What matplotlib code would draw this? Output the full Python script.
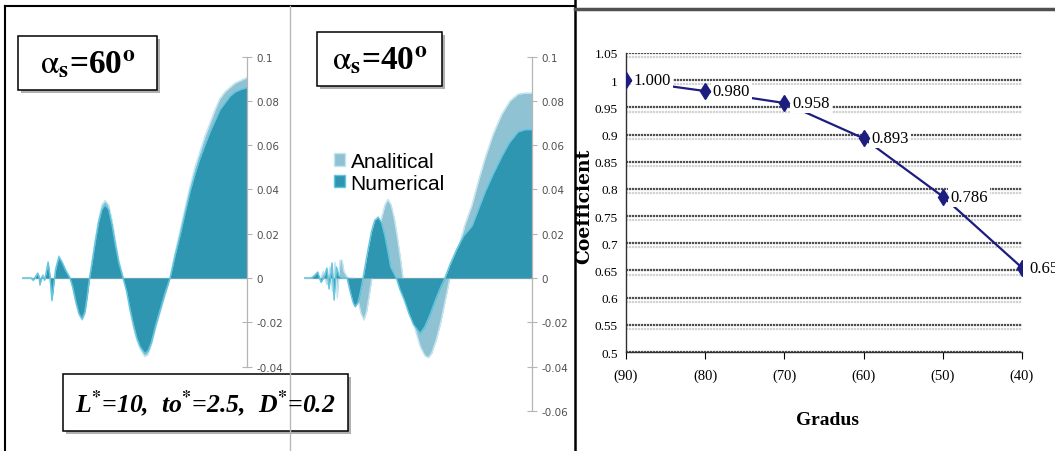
import numpy as np
import matplotlib
matplotlib.use('Agg')
import matplotlib.pyplot as plt
from matplotlib.patches import Rectangle, Patch
import matplotlib.patheffects as pe

plt.rcParams['mathtext.fontset'] = 'stix'

W, H = 1055, 452

# ---- alpha_s = 60 deg : position along span (0..100) and value
x60 = [0, 4, 5, 6, 7, 7.6, 8, 8.6, 9.3, 10, 10.7, 11.6, 12.4, 13.3, 14.2, 15, 16.4, 17.8, 19.6, 21.3,
       22.5, 24, 25.3, 26.7, 28, 29, 30,
       31, 32.5, 34, 35.5, 36.9, 38.5, 40, 41.5, 43, 44.9,
       46.5, 48, 49.5, 51, 52.5, 54.5, 56, 57.5, 59.5, 61.5, 63.5, 65.8,
       68, 70.2, 72.4, 74.7, 76.9, 79.1, 81.3, 83.6, 85.8, 88, 90.2, 92.4, 94.7, 96.9, 100]
num60 = [0, 0, -0.001, 0.0005, 0.002, 0.0005, -0.003, 0, 0.001, -0.001, 0.002, 0.007, 0.001, -0.010, -0.002, 0.004, 0.0095, 0.007, 0.003, 0,
         -0.004, -0.011, -0.016, -0.0185, -0.015, -0.008, 0,
         0.006, 0.016, 0.025, 0.031, 0.033, 0.031, 0.024, 0.015, 0.007, 0,
         -0.006, -0.014, -0.021, -0.027, -0.031, -0.034, -0.033, -0.029, -0.021, -0.014, -0.007, 0,
         0.010, 0.019, 0.029, 0.039, 0.047, 0.054, 0.060, 0.066, 0.071, 0.076, 0.079, 0.082, 0.084, 0.085, 0.086]
an60 = [0, 0, -0.0012, 0.0008, 0.0025, 0.0008, -0.0035, 0, 0.0015, -0.001, 0.0025, 0.0075, 0.0015, -0.0105, -0.0025, 0.0045, 0.010, 0.0075, 0.0035, 0.0005,
        -0.004, -0.0115, -0.0165, -0.019, -0.016, -0.009, -0.0005,
        0.006, 0.017, 0.026, 0.033, 0.035, 0.033, 0.026, 0.017, 0.008, 0.0005,
        -0.006, -0.015, -0.022, -0.028, -0.032, -0.0354, -0.0345, -0.030, -0.022, -0.015, -0.008, 0,
        0.011, 0.021, 0.031, 0.0415, 0.050, 0.057, 0.064, 0.070, 0.076, 0.081, 0.084, 0.086, 0.088, 0.089, 0.0905]

# ---- alpha_s = 40 deg
x40n = [0, 3, 4.5, 6, 7.5, 9, 10, 11, 12.3, 13.2, 14.2, 15.3, 16.5, 18.9,
        20.2, 21.5, 22.4, 23.7, 24.6, 25.9,
        26.9, 28.1, 29.6, 31, 32.5, 34, 35.5, 37, 38, 40.5,
        42, 44, 46, 48, 50.9, 53, 55.5, 58, 60, 61.8,
        64, 67, 70, 73.7, 76.5, 79.4, 83, 86.8, 90, 93.9, 97, 100]
num40 = [0, 0, 0.001, 0.0027, -0.002, 0.001, 0.0045, -0.005, 0.0068, -0.010, 0.005, 0.001, 0, 0,
         -0.006, -0.011, -0.013, -0.011, -0.007, 0,
         0.006, 0.013, 0.021, 0.026, 0.0275, 0.025, 0.019, 0.011, 0.005, 0,
         -0.005, -0.010, -0.016, -0.021, -0.025, -0.022, -0.016, -0.009, -0.004, 0,
         0.006, 0.013, 0.019, 0.0235, 0.031, 0.0388, 0.047, 0.055, 0.061, 0.066, 0.067, 0.067]
x40a = [0, 4, 5.5, 7, 8.5, 10, 11.4, 12.5, 13.6, 14.6, 15.8, 16.7, 17.5, 18.9, 20.2, 21.5,
        22.4, 23.7, 25, 26.3, 27.5, 28.6, 29.8,
        31, 32.5, 34, 35.5, 36.8, 38.2, 39.6, 41, 42.3, 43.4,
        45, 47, 49, 51, 53, 54.5, 56, 58, 60, 62, 64,
        66, 68.4, 70.6, 73.7, 76.3, 79.4, 83, 86.8, 90.4, 93.9, 97, 100]
an40 = [0, 0, 0.0015, -0.001, 0.003, -0.003, 0.005, -0.006, 0.007, -0.009, 0.008, 0.008, 0.003, 0.0005, 0, 0,
        -0.004, -0.010, -0.016, -0.019, -0.015, -0.008, 0,
        0.008, 0.018, 0.027, 0.033, 0.0355, 0.033, 0.027, 0.018, 0.009, 0,
        -0.007, -0.016, -0.024, -0.031, -0.035, -0.036, -0.034, -0.028, -0.020, -0.010, 0,
        0.008, 0.016, 0.024, 0.033, 0.043, 0.054, 0.065, 0.074, 0.080, 0.083, 0.0835, 0.0835]

yticks_small = [-0.06, -0.04, -0.02, 0, 0.02, 0.04, 0.06, 0.08, 0.1]
ytick_labels_small = ['-0.06', '-0.04', '-0.02', '0', '0.02', '0.04', '0.06', '0.08', '0.1']

# ---- coefficient chart
gradus = ['(90)', '(80)', '(70)', '(60)', '(50)', '(40)']
coef = [1.000, 0.980, 0.958, 0.893, 0.786, 0.655]
coef_ticks = [0.5, 0.55, 0.6, 0.65, 0.7, 0.75, 0.8, 0.85, 0.9, 0.95, 1.0, 1.05]
coef_tick_labels = ['0.5', '0.55', '0.6', '0.65', '0.7', '0.75', '0.8', '0.85', '0.9', '0.95', '1', '1.05']

C_AN = '#8fc3d3'
C_AN_EDGE = '#c4e4ee'
C_NU = '#2f96b1'
C_NU_EDGE = '#62c6de'

fig = plt.figure(figsize=(W / 100, H / 100), dpi=100)


def px_axes(x0, y0, x1, y1, **kw):
    return fig.add_axes([x0 / W, 1 - y1 / H, (x1 - x0) / W, (y1 - y0) / H], **kw)


def area_panel(ax, xa, ya, xn, yn, lo_bound):
    ax.fill_between(xa, ya, 0, color=C_AN, lw=0, zorder=1)
    ax.plot(xa, ya, color=C_AN_EDGE, lw=1, zorder=1.5)
    ax.fill_between(xn, yn, 0, color=C_NU, lw=0, zorder=2)
    ax.plot(xn, yn, color=C_NU_EDGE, lw=1, zorder=2.5)
    ax.hlines(0, 0, 100, color='#a6a6a6', lw=0.9, zorder=0.5)
    ax.set_xlim(0, 100)
    ax.set_ylim(-0.0682, 0.1034)
    for s in ['left', 'top', 'bottom']:
        ax.spines[s].set_visible(False)
    ax.spines['right'].set_color('#b5b5b5')
    ax.spines['right'].set_linewidth(0.9)
    ax.spines['right'].set_bounds(lo_bound, 0.1)
    ax.set_xticks([])
    ticks = [t for t in yticks_small if t >= lo_bound - 1e-9]
    labs = [l for t, l in zip(yticks_small, ytick_labels_small) if t >= lo_bound - 1e-9]
    ax.yaxis.tick_right()
    ax.set_yticks(ticks)
    ax.set_yticklabels(labs)
    ax.tick_params(axis='y', direction='inout', length=7, width=0.8, color='#b5b5b5',
                   labelsize=7.5, labelcolor='#505050', pad=3)
    ax.patch.set_alpha(0)


ax1 = px_axes(22, 50, 247, 430)
area_panel(ax1, x60, an60, x60, num60, -0.04)

ax2 = px_axes(304, 50, 532, 430)
area_panel(ax2, x40a, an40, x40n, num40, -0.06)
handles = [Patch(facecolor=C_AN, edgecolor=C_AN_EDGE), Patch(facecolor=C_NU, edgecolor=C_NU_EDGE)]
ax2.legend(handles, ['Analitical', 'Numerical'], loc='upper left',
           bbox_to_anchor=(334 / W, 1 - 153 / H), bbox_transform=fig.transFigure,
           frameon=False, handlelength=0.55, handleheight=0.55,
           handletextpad=0.25, labelspacing=0.12, borderpad=0, borderaxespad=0,
           prop={'family': 'Liberation Sans', 'size': 15})

# ---- right chart
ax3 = px_axes(626, 54, 1022, 353)
xs = np.arange(len(coef))
ax3.plot(xs, coef, color='#1d1d80', lw=1.6, zorder=3)
ax3.plot(xs, coef, ls='none', marker='d', ms=8, color='#1d1d80', zorder=6)
for i, v in enumerate(coef):
    ax3.annotate(f'{v:.3f}', (i, v), xytext=(5.5, 0), textcoords='offset points',
                 ha='left', va='center', fontsize=12, family='Liberation Serif',
                 bbox=dict(boxstyle='square,pad=0.12', fc='white', ec='none'),
                 zorder=5, annotation_clip=False)
ax3.set_xlim(0, 5)
ax3.set_ylim(0.5, 1.05)
ax3.set_yticks(coef_ticks)
ax3.set_yticklabels(coef_tick_labels)
ax3.set_xticks(xs)
ax3.set_xticklabels(gradus)
ax3.grid(axis='y', color='#505050', lw=1.6, ls=(0, (1, 0.35)), zorder=1)
for gl in ax3.get_ygridlines():
    gl.set_path_effects([pe.SimpleLineShadow(offset=(0, -3), shadow_color='#a8a8a8', alpha=0.5),
                         pe.Normal()])
for s in ['top', 'right']:
    ax3.spines[s].set_visible(False)
for s in ['left', 'bottom']:
    ax3.spines[s].set_color('#303030')
    ax3.spines[s].set_linewidth(1)
ax3.tick_params(axis='y', length=0, pad=6, labelsize=9.5)
ax3.tick_params(axis='x', length=5, direction='out', pad=7, labelsize=10.5)
for lab in ax3.get_xticklabels() + ax3.get_yticklabels():
    lab.set_family('Liberation Serif')
ax3.set_xlabel('Gradus', fontsize=14, fontweight='bold', family='Liberation Serif')
ax3.xaxis.set_label_coords(0.508, -0.227)
ax3.xaxis.label.set_va('center')
ax3.set_ylabel('Coefficient', fontsize=13.5, fontweight='bold', family='DejaVu Serif')
ax3.yaxis.set_label_coords(-0.106, 0.49)
ax3.yaxis.label.set_va('center')

# ---- overlay: frames and caption boxes (pixel coordinates)
axo = fig.add_axes([0, 0, 1, 1], zorder=10)
axo.set_xlim(0, W)
axo.set_ylim(H, 0)
axo.axis('off')
axo.patch.set_alpha(0)
axo.plot([5, 5], [7, H], color='k', lw=1.5)
axo.plot([5, 575], [7, 7], color='k', lw=1.5)
axo.plot([575, 575], [0, H], color='k', lw=1.8)
axo.plot([290, 290], [7, H], color='#b8b8b8', lw=1)
axo.plot([575, W], [9.5, 9.5], color='#505050', lw=2.5)


def caption_box(x0, y0, x1, y1, text, **kw):
    axo.add_patch(Rectangle((x0 + 3, y0 + 3), x1 - x0, y1 - y0, fc='#9c9c9c', ec='none', alpha=0.8))
    axo.add_patch(Rectangle((x0, y0), x1 - x0, y1 - y0, fc='white', ec='black', lw=1.1))
    axo.text((x0 + x1) / 2, (y0 + y1) / 2 + 1, text, ha='center', va='center',
             family='Liberation Serif', fontweight='bold', **kw)


caption_box(18, 37, 157, 91, r'$\mathrm{\alpha}_{\mathbf{s}}$=60$^{\mathbf{o}}$', fontsize=24)
caption_box(317, 33, 442, 87, r'$\mathrm{\alpha}_{\mathbf{s}}$=40$^{\mathbf{o}}$', fontsize=24)
caption_box(63, 375, 348, 432, r'L$^{\mathbf{*}}$=10,  to$^{\mathbf{*}}$=2.5,  D$^{\mathbf{*}}$=0.2',
            fontsize=18.5, fontstyle='italic')

fig.savefig('out.png', dpi=100)
